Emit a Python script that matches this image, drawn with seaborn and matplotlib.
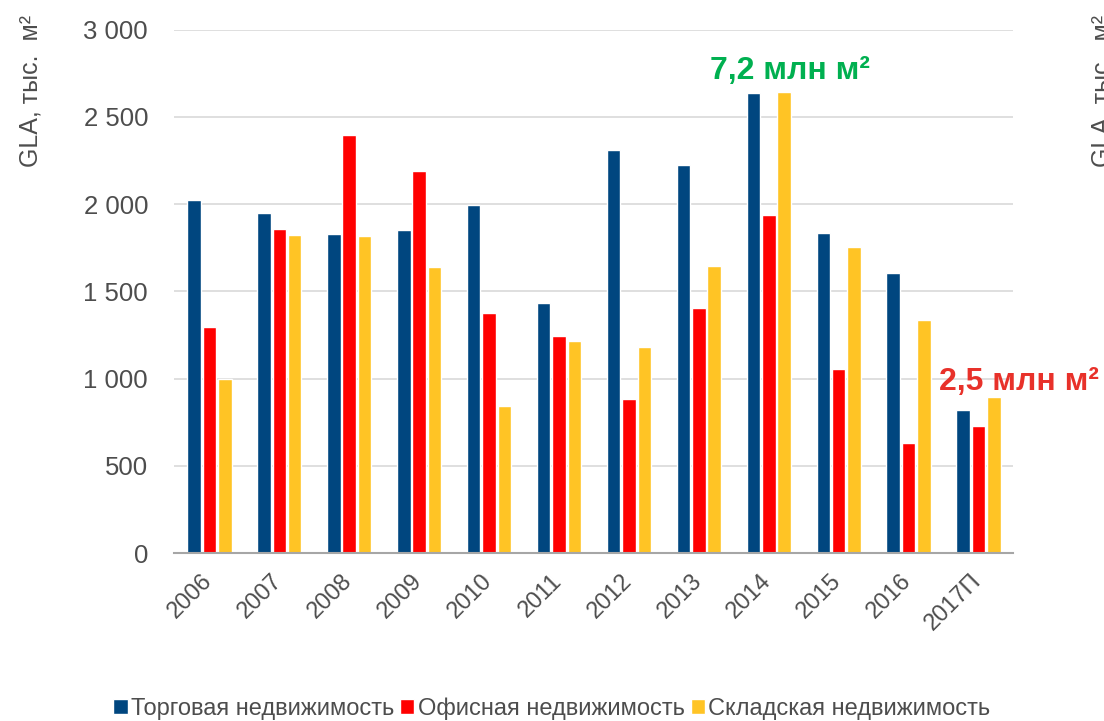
import seaborn as sns
import pandas as pd
import matplotlib.pyplot as plt
from matplotlib.ticker import FuncFormatter
from matplotlib.transforms import ScaledTranslation

years = ["2006", "2007", "2008", "2009", "2010", "2011", "2012",
         "2013", "2014", "2015", "2016", "2017П"]
retail = [2025, 1950, 1830, 1853, 1997, 1434, 2312, 2226, 2639, 1836, 1606, 820]
office = [1297, 1859, 2398, 2192, 1377, 1245, 883, 1405, 1939, 1056, 631, 729]
warehouse = [1000, 1824, 1819, 1641, 843, 1216, 1182, 1646, 2645, 1756, 1337, 895]
series = ["Торговая недвижимость", "Офисная недвижимость", "Складская недвижимость"]
colors = ["#00467F", "#FF0000", "#FFC425"]

df = pd.DataFrame({
    "Год": years * 3,
    "GLA": retail + office + warehouse,
    "Сегмент": [series[0]] * 12 + [series[1]] * 12 + [series[2]] * 12,
})

sns.set_theme(style="white")
plt.rcParams['font.family'] = ['Liberation Sans', 'DejaVu Sans']
txt = "#4D4D4D"

fig = plt.figure(figsize=(11.04, 7.21), dpi=100)
ax = fig.add_axes([0.158, 0.233, 0.76, 0.726])

sns.barplot(data=df, x="Год", y="GLA", hue="Сегмент", palette=colors,
            saturation=1, width=0.66, gap=0.12, ax=ax, legend=True)

ax.set_ylim(0, 3000)
ax.set_yticks(range(0, 3001, 500))
ax.yaxis.set_major_formatter(FuncFormatter(lambda v, p: f"{int(v):,}".replace(",", " ")))
ax.grid(axis="y", color="#D9D9D9", linewidth=1.2)
ax.set_axisbelow(True)
for s in ["top", "right", "left"]:
    ax.spines[s].set_visible(False)
ax.spines["bottom"].set_color("#A6A6A6")
ax.spines["bottom"].set_linewidth(1.5)
ax.tick_params(axis="y", labelsize=18.5, colors=txt, length=0, pad=19)
ax.tick_params(axis="x", labelsize=17, colors=txt, length=0, pad=12)
shift = ScaledTranslation(-6 / 72, 0, fig.dpi_scale_trans)
for lbl in ax.get_xticklabels():
    lbl.set_rotation(45)
    lbl.set_ha("right")
    lbl.set_rotation_mode("anchor")
    lbl.set_transform(lbl.get_transform() + shift)
ax.set_xlabel("")
ax.set_ylabel("")

fig.text(0.028, 0.98, "GLA, тыс.  м²", rotation=90, va="top", ha="center",
         fontsize=18, color=txt)
fig.text(0.988, 0.98, "GLA, тыс.  м²", rotation=90, va="top", ha="left",
         fontsize=18, color=txt)

ax.text(8.3, 2675, "7,2 млн м²", ha="center", va="bottom", fontsize=23,
        fontweight="bold", color="#00B050")
ax.text(11.58, 895, "2,5 млн м²", ha="center", va="bottom", fontsize=23,
        fontweight="bold", color="#E8312A", clip_on=False)

ax.legend(loc="lower center", bbox_to_anchor=(0.45, -0.36), ncol=3, frameon=False,
          fontsize=17, handlelength=0.6, handleheight=0.6, handletextpad=0.15,
          columnspacing=0.25, labelcolor=txt)

fig.savefig("out.png", dpi=100)
